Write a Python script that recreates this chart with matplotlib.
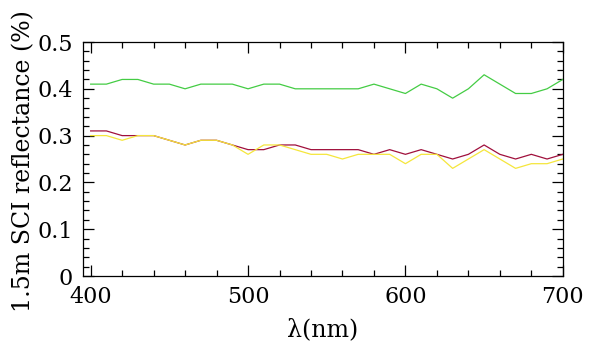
import matplotlib
matplotlib.use("Agg")
import matplotlib.pyplot as plt
from matplotlib.ticker import MultipleLocator

wavelength = [400, 410, 420, 430, 440, 450, 460, 470, 480, 490, 500,
              510, 520, 530, 540, 550, 560, 570, 580, 590, 600,
              610, 620, 630, 640, 650, 660, 670, 680, 690, 700]
green = [0.41, 0.41, 0.42, 0.42, 0.41, 0.41, 0.40, 0.41, 0.41, 0.41, 0.40,
         0.41, 0.41, 0.40, 0.40, 0.40, 0.40, 0.40, 0.41, 0.40, 0.39,
         0.41, 0.40, 0.38, 0.40, 0.43, 0.41, 0.39, 0.39, 0.40, 0.42]
red = [0.31, 0.31, 0.30, 0.30, 0.30, 0.29, 0.28, 0.29, 0.29, 0.28, 0.27,
       0.27, 0.28, 0.28, 0.27, 0.27, 0.27, 0.27, 0.26, 0.27, 0.26,
       0.27, 0.26, 0.25, 0.26, 0.28, 0.26, 0.25, 0.26, 0.25, 0.26]
yellow = [0.30, 0.30, 0.29, 0.30, 0.30, 0.29, 0.28, 0.29, 0.29, 0.28, 0.26,
          0.28, 0.28, 0.27, 0.26, 0.26, 0.25, 0.26, 0.26, 0.26, 0.24,
          0.26, 0.26, 0.23, 0.25, 0.27, 0.25, 0.23, 0.24, 0.24, 0.25]

plt.rcParams['font.family'] = ['DejaVu Serif']

fig = plt.figure(figsize=(6.0, 3.56), dpi=100)
ax = fig.add_axes([0.138, 0.2247, 0.800, 0.6573])

ax.plot(wavelength, green, color='#44cc44', lw=0.9)
ax.plot(wavelength, red, color='#a0103c', lw=0.9)
ax.plot(wavelength, yellow, color='#f5e63c', lw=0.9)

ax.set_xlim(395, 700)
ax.set_ylim(0, 0.5)
ax.xaxis.set_major_locator(MultipleLocator(100))
ax.xaxis.set_minor_locator(MultipleLocator(20))
ax.yaxis.set_minor_locator(MultipleLocator(0.02))
ax.set_yticks([0, 0.1, 0.2, 0.3, 0.4, 0.5])
ax.set_yticklabels(['0', '0.1', '0.2', '0.3', '0.4', '0.5'])

ax.tick_params(which='both', direction='in', top=True, right=True,
               labelsize=16, width=0.9, color='black')
ax.tick_params(which='major', length=8, pad=7)
ax.tick_params(which='minor', length=4)
for s in ax.spines.values():
    s.set_linewidth(0.9)

ax.set_xlabel('λ(nm)', fontsize=17)
ax.set_ylabel('1.5m SCI reflectance (%)', fontsize=17)
ax.xaxis.set_label_coords(0.5, -0.18)
ax.yaxis.set_label_coords(-0.10, 0.49)

fig.savefig('out.png', dpi=100)
